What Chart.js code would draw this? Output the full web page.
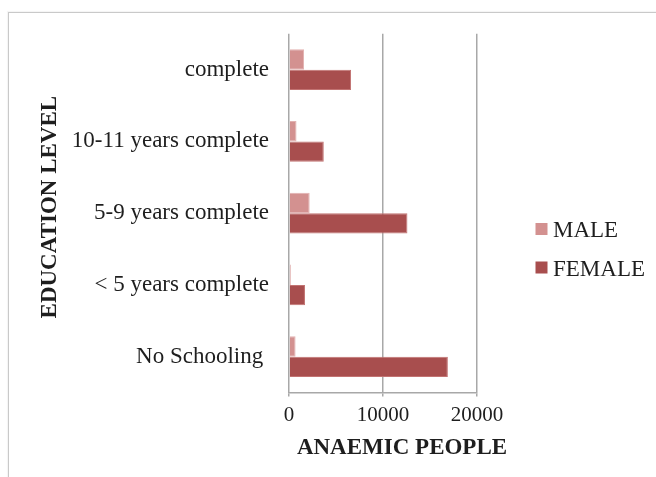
<!DOCTYPE html>
<html>
<head>
<meta charset="utf-8">
<script src="https://cdn.jsdelivr.net/npm/chart.js@4/dist/chart.umd.min.js"></script>
<style>
  html, body { margin: 0; padding: 0; background: #ffffff; }
  #wrap { position: relative; width: 656px; height: 477px; overflow: hidden; }
  #frame {
    position: absolute; left: 8px; top: 12px; width: 700px; height: 520px;
    border-left: 1.5px solid #c9c9c9; border-top: 1.5px solid #c9c9c9;
    box-shadow: -1px -1px 1px rgba(0,0,0,0.04);
  }
  canvas { position: absolute; left: 0; top: 0; }
</style>
</head>
<body>
<div id="wrap">
  <div id="frame"></div>
  <canvas id="chart" width="656" height="477"></canvas>
</div>
<script>
// Education levels (top to bottom) and anaemic people counts per sex
const categories = ['complete', '10-11 years complete', '5-9 years complete', '< 5 years complete', 'No Schooling '];
const maleValues = [1600, 800, 2200, 200, 700];
const femaleValues = [6600, 3700, 12600, 1700, 16900];
const seriesNames = ['MALE', 'FEMALE'];
const xTickValues = [0, 10000, 20000];
const xTitle = 'ANAEMIC PEOPLE';
const yTitle = 'EDUCATION LEVEL';

const MALE_COLOR = '#d39190';
const FEMALE_COLOR = '#a84e4e';
const TEXT_COLOR = '#1e1e1e';
const SERIF = '"Liberation Serif", "Times New Roman", serif';

// Axis titles and the side legend are painted after the chart itself
const decorations = {
  id: 'decorations',
  afterDraw(chart) {
    const ctx = chart.ctx;
    const area = chart.chartArea;
    ctx.save();
    ctx.fillStyle = TEXT_COLOR;

    // horizontal axis title
    ctx.font = 'bold 23px ' + SERIF;
    ctx.textAlign = 'center';
    ctx.textBaseline = 'alphabetic';
    ctx.fillText(xTitle, area.right - 75, 454);

    // vertical axis title
    ctx.save();
    ctx.translate(56, (area.top + area.bottom) / 2 - 6);
    ctx.rotate(-Math.PI / 2);
    ctx.fillText(yTitle, 0, 0);
    ctx.restore();

    // legend
    ctx.font = '23px ' + SERIF;
    ctx.textAlign = 'left';
    chart.data.datasets.forEach((ds, i) => {
      const cy = 229 + i * 38.5;
      ctx.fillStyle = ds.backgroundColor;
      ctx.fillRect(535.5, cy - 6, 12, 12);
      ctx.fillStyle = TEXT_COLOR;
      ctx.fillText(ds.label, 553, cy + 8);
    });
    ctx.restore();
  }
};

new Chart(document.getElementById('chart'), {
  type: 'bar',
  data: {
    labels: categories,
    datasets: [
      { label: seriesNames[0], data: maleValues, backgroundColor: MALE_COLOR, borderColor: '#e2b1b0', borderWidth: 1 },
      { label: seriesNames[1], data: femaleValues, backgroundColor: FEMALE_COLOR, borderColor: '#c27372', borderWidth: 1 }
    ]
  },
  options: {
    indexAxis: 'y',
    responsive: false,
    animation: false,
    categoryPercentage: 0.57,
    barPercentage: 1.0,
    layout: { padding: { left: 0, right: 179, top: 33, bottom: 0 } },
    plugins: { legend: { display: false }, tooltip: { enabled: false } },
    scales: {
      x: {
        min: 0,
        max: 20000,
        afterBuildTicks(scale) { scale.ticks = xTickValues.map(v => ({ value: v })); },
        afterFit(scale) { scale.height = 84.5; },
        grid: { color: '#a8a8a8', lineWidth: 1.5, drawTicks: true, tickLength: 4, tickColor: '#a8a8a8' },
        border: { display: true, color: '#a8a8a8', width: 1.5 },
        ticks: {
          color: TEXT_COLOR,
          font: { family: SERIF, size: 21 },
          padding: 6,
          callback: (value) => String(value)
        }
      },
      y: {
        afterFit(scale) { scale.width = 289; },
        grid: { display: false, drawTicks: false },
        border: { display: false },
        ticks: { color: TEXT_COLOR, font: { family: SERIF, size: 23 }, padding: 20 }
      }
    }
  },
  plugins: [decorations]
});
</script>
</body>
</html>
